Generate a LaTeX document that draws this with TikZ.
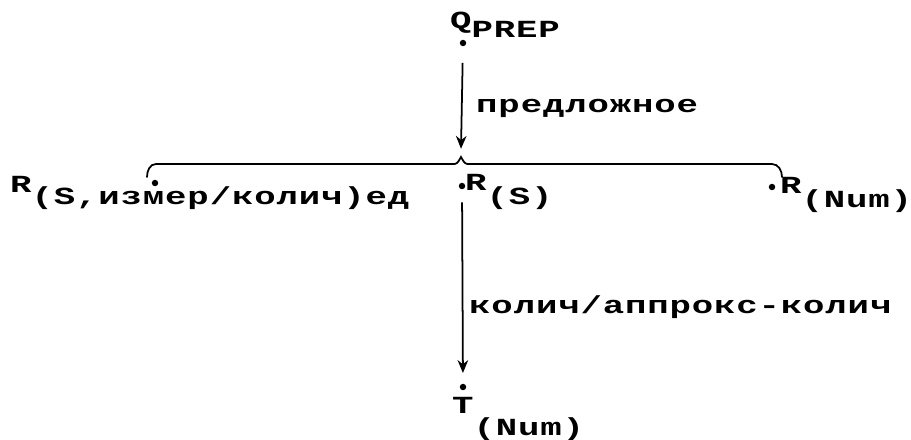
\documentclass[tikz,border=0pt]{standalone}
\usepackage{fontspec}
\setmainfont{Liberation Mono}[FakeStretch=1.45,LetterSpace=3.5]
\usetikzlibrary{positioning, arrows.meta}

\begin{document}
\begin{tikzpicture}[
  x=0.03cm, y=-0.03cm,
  pointnode/.style={fill=black, circle, inner sep=0pt, minimum size=5.5pt},
  labelnode/.style={inner sep=0pt, anchor=base west, font=\bfseries\fontsize{21pt}{24pt}\selectfont},
  relarrow/.style={-{Stealth[length=11pt, width=9pt]}, line width=1.5pt},
  bracepath/.style={line width=1.5pt, line cap=round}
]
  \useasboundingbox (0,0) rectangle (911,439);

  % points
  \node[pointnode] (q) at (463,43) {};
  \node[pointnode] (rl) at (155,183) {};
  \node[pointnode] (rs) at (462,186) {};
  \node[pointnode] (rn) at (772,187) {};
  \node[pointnode] (t) at (463,387) {};

  % names of the points
  \node[labelnode] (qname) at (450,28) {Q\raisebox{-7.7pt}{PREP}};
  \node[labelnode] (rlname) at (10,192) {R\raisebox{-11pt}{(S,измер/колич)ед}};
  \node[labelnode] (rsname) at (465,190) {R\raisebox{-12pt}{(S)}};
  \node[labelnode] (rnname) at (780,193) {R\raisebox{-12pt}{(Num)}};
  \node[labelnode] (tname) at (452,413) {T\raisebox{-19pt}{(Num)}};

  % brace over the three R
  \coordinate (bl) at (147,177);
  \coordinate (br) at (782,177);
  \coordinate (tip) at (461,157);
  \draw[bracepath] (bl) to[out=90, in=180] (156,164) -- (452,164)
    .. controls (457,164) .. (tip) .. controls (465,164) .. (470,164)
    -- (772,164) to[out=0, in=90] (br);

  % relations
  \draw[relarrow, shorten <=14pt] (q) -- ([yshift=7pt]tip);
  \node[labelnode] (prep) at (476,112) {предложное};
  \draw[relarrow, shorten <=11pt, shorten >=9pt] (rs) -- (t);
  \node[labelnode] (kol) at (469,313) {колич/аппрокс-колич};
\end{tikzpicture}
\end{document}
